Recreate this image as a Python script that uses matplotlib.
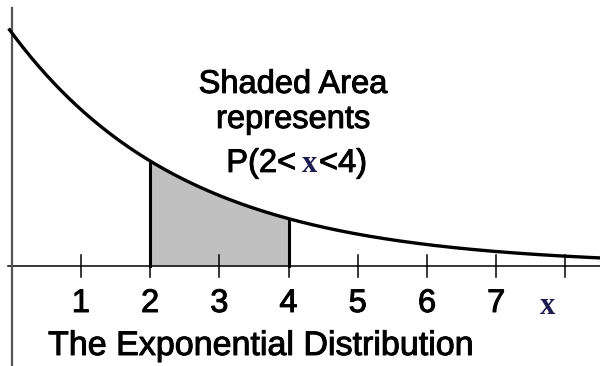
import numpy as np
import matplotlib
matplotlib.use("Agg")
import matplotlib.pyplot as plt
import matplotlib.patheffects as pe

# exponential density with rate 0.4, shaded between 2 and 4
rate = 0.4
shade_lo, shade_hi = 2, 4
tick_pos = [1, 2, 3, 4, 5, 6, 7, 8]
tick_labels = ["1", "2", "3", "4", "5", "6", "7", ""]

def pdf(x):
    return rate * np.exp(-rate * x)

fig = plt.figure(figsize=(6, 3.66), dpi=100)
ax = fig.add_axes([0, 0, 1, 1])
ax.set_xlim(-0.169, 8.50)
ax.set_ylim(-0.1722, 0.4561)
ax.axis("off")

# axes drawn by hand
ax.plot([-0.06, 8.5], [0, 0], color="black", lw=1.1, zorder=2)
ax.plot([0, 0], [-0.1722, 0.4425], color="#555555", lw=1.6, zorder=2)
for t in tick_pos:
    ax.plot([t, t], [0.019, -0.019], color="black", lw=1.1, zorder=2)

# shaded area and its edges
xs = np.linspace(shade_lo, shade_hi, 200)
ax.fill_between(xs, 0, pdf(xs), color="#c0c0c0", lw=0, zorder=1)
for b in (shade_lo, shade_hi):
    ax.plot([b, b], [0, pdf(b)], color="black", lw=2.2, zorder=3)

# density curve
xc = np.linspace(-0.03, 8.5, 400)
ax.plot(xc, pdf(xc), color="black", lw=2.4, zorder=4)

# slightly heavier sans text
sans = dict(family="Liberation Sans", fontsize=23.5, va="baseline",
            path_effects=[pe.withStroke(linewidth=0.7, foreground="black")])
xstyle = dict(family="Liberation Serif", weight="bold", fontsize=22,
              color="#1c1c50", va="baseline")

for t, lab in zip(tick_pos, tick_labels):
    ax.text(t, -0.0795, lab, ha="center", **sans)

ax.text(7.735, -0.083, "x", ha="center", **xstyle)

ax.text(4.065, 0.2966, "Shaded Area", ha="center", **sans)
ax.text(4.065, 0.2364, "represents", ha="center", **sans)
ax.text(4.11, 0.161, "P(2<", ha="right", **sans)
ax.text(4.30, 0.161, "x", ha="center", **xstyle)
ax.text(4.44, 0.161, "<4)", ha="left", **sans)

ax.text(0.525, -0.1533, "The Exponential Distribution", ha="left",
        **{**sans, "fontsize": 24.5})

fig.savefig("out.png", dpi=100)
